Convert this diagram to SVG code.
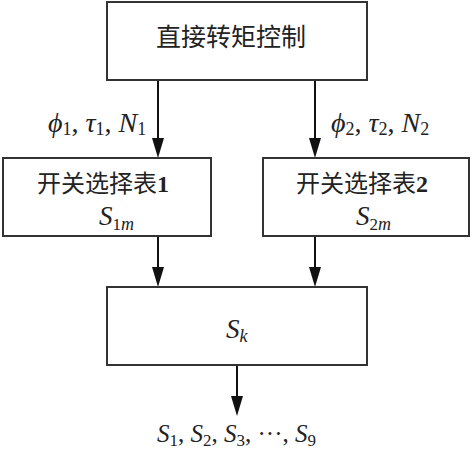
<svg xmlns="http://www.w3.org/2000/svg" width="474" height="455" viewBox="0 0 474 455">
<style>
.box{fill:#fff;stroke:#333;stroke-width:2}
.cjk{font-family:"Noto Sans CJK SC","Liberation Serif",serif;fill:#222}
.m{font-family:"Liberation Serif",serif;font-style:italic;fill:#222}
.n{font-style:normal}
.ln{stroke:#111;stroke-width:2;fill:none}
.ah{fill:#111}
</style>
<g id="connectors">
<line class="ln" x1="158" y1="80" x2="158" y2="140"/>
<path class="ah" d="M152,138 L164,138 L158,158 Z"/>
<line class="ln" x1="315" y1="80" x2="315" y2="140"/>
<path class="ah" d="M309,138 L321,138 L315,158 Z"/>
<line class="ln" x1="158" y1="236" x2="158" y2="270"/>
<path class="ah" d="M152,267 L164,267 L158,287 Z"/>
<line class="ln" x1="315" y1="236" x2="315" y2="270"/>
<path class="ah" d="M309,267 L321,267 L315,287 Z"/>
<line class="ln" x1="237" y1="365" x2="237" y2="398"/>
<path class="ah" d="M231,396 L243,396 L237,416 Z"/>
<text class="m" x="48" y="132" font-size="28">ϕ<tspan class="n" font-size="18" dy="3">1</tspan><tspan class="n" dy="-3">, </tspan>τ<tspan class="n" font-size="18" dy="3">1</tspan><tspan class="n" dy="-3">, </tspan>N<tspan class="n" font-size="18" dy="3">1</tspan></text>
<text class="m" x="331" y="132" font-size="28">ϕ<tspan class="n" font-size="18" dy="3">2</tspan><tspan class="n" dy="-3">, </tspan>τ<tspan class="n" font-size="18" dy="3">2</tspan><tspan class="n" dy="-3">, </tspan>N<tspan class="n" font-size="18" dy="3">2</tspan></text>
<text class="m" x="157" y="442" font-size="25">S<tspan class="n" font-size="17" dy="4">1</tspan><tspan class="n" dy="-4">, </tspan>S<tspan class="n" font-size="17" dy="4">2</tspan><tspan class="n" dy="-4">, </tspan>S<tspan class="n" font-size="17" dy="4">3</tspan><tspan class="n" dy="-4">, ···, </tspan>S<tspan class="n" font-size="17" dy="4">9</tspan></text>
</g>
<g id="dtc">
<rect class="box" x="107" y="2" width="260" height="78"/>
<text class="cjk" x="231" y="46" font-size="25" text-anchor="middle">直接转矩控制</text>
</g>
<g id="table1">
<rect class="box" x="3" y="158" width="208" height="78"/>
<text class="cjk" x="37" y="192" font-size="24">开关选择表<tspan font-family="Liberation Serif" font-weight="bold">1</tspan></text>
<text class="m" x="99" y="225" font-size="27">S<tspan class="n" font-size="17" dy="5">1</tspan><tspan font-size="18">m</tspan></text>
</g>
<g id="table2">
<rect class="box" x="263" y="158" width="206" height="78"/>
<text class="cjk" x="296" y="192" font-size="24">开关选择表<tspan font-family="Liberation Serif" font-weight="bold">2</tspan></text>
<text class="m" x="356" y="225" font-size="27">S<tspan class="n" font-size="17" dy="5">2</tspan><tspan font-size="18">m</tspan></text>
</g>
<g id="sk">
<rect class="box" x="107" y="287" width="260" height="78"/>
<text class="m" x="226" y="338" font-size="27">S<tspan font-size="18" dy="4">k</tspan></text>
</g>
</svg>
